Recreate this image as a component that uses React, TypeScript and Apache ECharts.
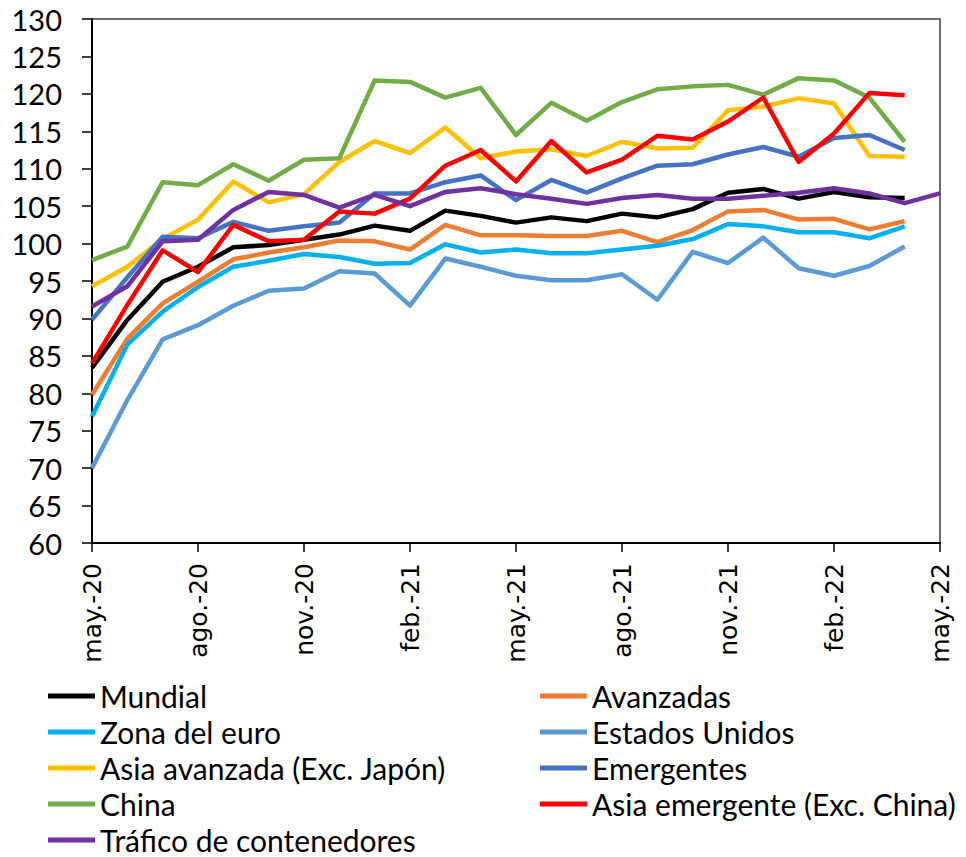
import React, { useEffect, useRef } from "react";
import * as echarts from "echarts";

const months = ["may.-20","jun.-20","jul.-20","ago.-20","sep.-20","oct.-20","nov.-20","dic.-20","ene.-21","feb.-21","mar.-21","abr.-21","may.-21","jun.-21","jul.-21","ago.-21","sep.-21","oct.-21","nov.-21","dic.-21","ene.-22","feb.-22","mar.-22","abr.-22","may.-22"];

const mundial = [83.4, 89.8, 94.9, 96.9, 99.5, 99.8, 100.5, 101.2, 102.4, 101.7, 104.4, 103.7, 102.8, 103.5, 103.0, 104.0, 103.5, 104.6, 106.8, 107.3, 106.0, 106.9, 106.2, 106.1];
const avanzadas = [79.8, 87.3, 92.0, 94.9, 97.9, 98.8, 99.5, 100.4, 100.3, 99.2, 102.5, 101.1, 101.1, 101.0, 101.0, 101.7, 100.2, 101.8, 104.3, 104.5, 103.2, 103.3, 101.9, 103.0];
const zonaEuro = [76.9, 86.5, 90.9, 94.2, 96.9, 97.7, 98.6, 98.2, 97.3, 97.4, 99.9, 98.8, 99.2, 98.7, 98.7, 99.2, 99.7, 100.6, 102.6, 102.3, 101.5, 101.5, 100.7, 102.3];
const estadosUnidos = [70.0, 79.1, 87.2, 89.1, 91.7, 93.7, 94.0, 96.3, 96.0, 91.7, 98.0, 96.9, 95.7, 95.1, 95.1, 95.9, 92.5, 98.9, 97.4, 100.8, 96.7, 95.7, 97.0, 99.6];
const asiaAvanzada = [94.3, 96.9, 100.6, 103.2, 108.3, 105.5, 106.6, 110.9, 113.7, 112.1, 115.5, 111.4, 112.3, 112.6, 111.7, 113.6, 112.7, 112.8, 117.8, 118.3, 119.4, 118.7, 111.7, 111.6];
const emergentes = [89.8, 95.5, 100.9, 100.7, 102.9, 101.7, 102.3, 102.8, 106.7, 106.7, 108.2, 109.1, 105.8, 108.5, 106.8, 108.7, 110.4, 110.6, 111.9, 112.9, 111.6, 114.1, 114.5, 112.5];
const china = [97.8, 99.6, 108.2, 107.8, 110.6, 108.4, 111.2, 111.4, 121.8, 121.6, 119.5, 120.8, 114.5, 118.8, 116.4, 118.9, 120.6, 121.0, 121.2, 119.9, 122.1, 121.8, 119.5, 113.6];
const asiaEmergente = [84.0, 91.8, 99.1, 96.2, 102.5, 100.3, 100.5, 104.3, 104.0, 106.0, 110.4, 112.5, 108.3, 113.7, 109.5, 111.2, 114.4, 113.9, 116.3, 119.5, 110.9, 114.7, 120.1, 119.8];
const trafico = [91.6, 94.3, 100.3, 100.5, 104.5, 106.9, 106.5, 104.8, 106.5, 105.0, 106.9, 107.4, 106.6, 106.0, 105.3, 106.1, 106.5, 106.0, 106.0, 106.4, 106.8, 107.4, 106.7, 105.4, 106.7];

const seriesDefs = [
  { name: "Mundial", data: mundial, color: "#000000" },
  { name: "Avanzadas", data: avanzadas, color: "#ED7D31" },
  { name: "Zona del euro", data: zonaEuro, color: "#00B0F0" },
  { name: "Estados Unidos", data: estadosUnidos, color: "#5B9BD5" },
  { name: "Asia avanzada (Exc. Japón)", data: asiaAvanzada, color: "#FFC000" },
  { name: "Emergentes", data: emergentes, color: "#4472C4" },
  { name: "China", data: china, color: "#70AD47" },
  { name: "Asia emergente (Exc. China)", data: asiaEmergente, color: "#FF0000" },
  { name: "Tráfico de contenedores", data: trafico, color: "#7030A0" },
];

const legendLeft = ["Mundial", "Zona del euro", "Asia avanzada (Exc. Japón)", "China", "Tráfico de contenedores"];
const legendRight = ["Avanzadas", "Estados Unidos", "Emergentes", "Asia emergente (Exc. China)"];

export default function App() {
  const ref = useRef<HTMLDivElement>(null);
  useEffect(() => {
    document.body.style.margin = "0";
    const chart = echarts.init(ref.current!, null, { renderer: "svg" });
    const legendCommon = {
      orient: "vertical" as const,
      icon: "rect",
      itemWidth: 47,
      itemHeight: 5,
      itemGap: 6,
      padding: 0,
      top: 681,
      height: 176,
      textStyle: { fontFamily: "Lato", fontSize: 30, color: "#000" },
    };
    chart.setOption({
      animation: false,
      backgroundColor: "#fff",
      grid: {
        left: 92,
        right: 26,
        top: 19,
        bottom: 314,
        show: true,
        borderColor: "#404040",
        borderWidth: 1.5,
      },
      legend: [
        { ...legendCommon, left: 48, data: legendLeft },
        { ...legendCommon, left: 540, data: legendRight },
      ],
      xAxis: {
        type: "category",
        data: months,
        boundaryGap: false,
        axisLine: { lineStyle: { color: "#000", width: 2 } },
        axisTick: { interval: 2, length: 9, lineStyle: { color: "#000", width: 1.5 } },
        axisLabel: {
          interval: 2,
          rotate: 90,
          margin: 20,
          fontFamily: "DejaVu Sans",
          fontSize: 25,
          color: "#000",
        },
        splitLine: { show: false },
      },
      yAxis: {
        type: "value",
        min: 60,
        max: 130,
        interval: 5,
        axisLine: { show: true, lineStyle: { color: "#000", width: 2 } },
        axisTick: { show: true, length: 10, lineStyle: { color: "#000", width: 1.5 } },
        axisLabel: { margin: 30, fontFamily: "Lato", fontSize: 29, color: "#000" },
        splitLine: { show: false },
      },
      series: seriesDefs.map((s) => ({
        name: s.name,
        type: "line",
        data: s.data,
        symbol: "none",
        showSymbol: false,
        lineStyle: { color: s.color, width: 4.5, join: "round" },
        itemStyle: { color: s.color },
      })),
    });
    return () => chart.dispose();
  }, []);
  return <div ref={ref} style={{ width: 966, height: 857 }} />;
}
